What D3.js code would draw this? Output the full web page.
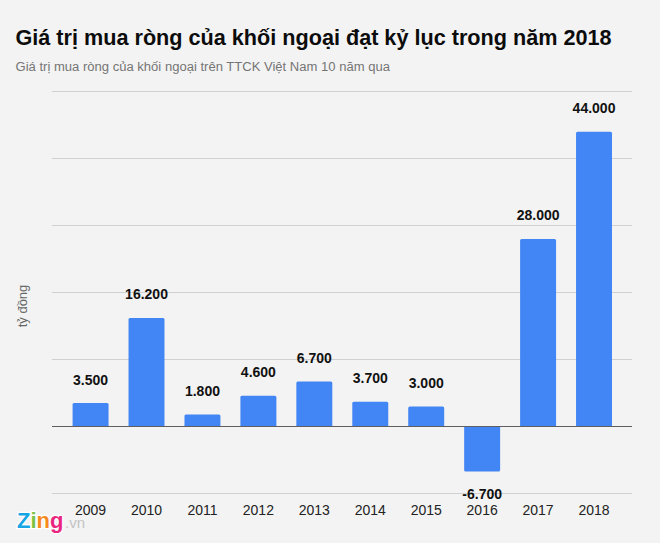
<!DOCTYPE html>
<html><head><meta charset="utf-8">
<script src="https://cdn.jsdelivr.net/npm/d3@7"></script>
<style>
html,body{margin:0;padding:0;background:#f3f3f3}
svg{display:block;font-family:"Liberation Sans",Arial,sans-serif}
</style></head><body>
<svg id="c" width="660" height="543"></svg>
<script>
const titleText = "Giá trị mua ròng của khối ngoại đạt kỷ lục trong năm 2018";
const subtitleText = "Giá trị mua ròng của khối ngoại trên TTCK Việt Nam 10 năm qua";
const yAxisLabel = "tỷ đồng";
const years = ["2009","2010","2011","2012","2013","2014","2015","2016","2017","2018"];
const values = [3500,16200,1800,4600,6700,3700,3000,-6700,28000,44000];
const valueLabels = ["3.500","16.200","1.800","4.600","6.700","3.700","3.000","-6.700","28.000","44.000"];
const gridTicks = [-10000,0,10000,20000,30000,40000,50000];

const svg = d3.select("#c");
const x = d3.scaleBand().domain(years).range([62.6,622]).paddingInner(0.357).paddingOuter(0.1785);
const y = d3.scaleLinear().domain([-10000,50000]).range([493.5,91.5]);

svg.append("text").attr("x",15.5).attr("y",45).attr("font-size",21.63).attr("font-weight","bold").attr("fill","#0c0c0c").text(titleText);
svg.append("text").attr("x",15.5).attr("y",71).attr("font-size",13.05).attr("fill","#757575").text(subtitleText);

svg.append("g").selectAll("line").data(gridTicks.filter(d=>d!==0)).join("line")
  .attr("x1",52).attr("x2",632).attr("y1",d=>y(d)).attr("y2",d=>y(d))
  .attr("stroke","#d0d0d0").attr("stroke-width",1);

svg.append("g").selectAll("path").data(values).join("path")
  .attr("fill","#4285f4")
  .attr("d",(d,i)=>{
    const l=x(years[i]), w=x.bandwidth(), y0=y(0), y1=y(d), r=1.5, s=d>=0?1:-1;
    return `M${l},${y0}L${l},${y1+s*r}Q${l},${y1} ${l+r},${y1}L${l+w-r},${y1}Q${l+w},${y1} ${l+w},${y1+s*r}L${l+w},${y0}Z`;
  });

svg.append("line").attr("x1",52).attr("x2",632).attr("y1",y(0)).attr("y2",y(0)).attr("stroke","#5f5f5f").attr("stroke-width",1);

svg.append("g").selectAll("text").data(values).join("text")
  .attr("x",(d,i)=>x(years[i])+x.bandwidth()/2)
  .attr("y",d=>d>=0?y(d)-18.5:y(d)+27.5)
  .attr("text-anchor","middle").attr("font-size",14).attr("font-weight","bold").attr("fill","#111")
  .text((d,i)=>valueLabels[i]);

svg.append("g").selectAll("text").data(years).join("text")
  .attr("x",d=>x(d)+x.bandwidth()/2).attr("y",515)
  .attr("text-anchor","middle").attr("font-size",14).attr("fill","#222").text(d=>d);

svg.append("text").attr("transform","translate(27,306) rotate(-90)").attr("text-anchor","middle")
  .attr("font-size",13).attr("fill","#666").text(yAxisLabel);

const logo = svg.append("text").attr("x",17).attr("y",527.5).attr("font-size",22).attr("font-weight","bold")
  .attr("stroke","#fff").attr("stroke-width",2.5).attr("paint-order","stroke");
[["Z","#18a5e3"],["i","#7cc242"],["n","#f58a1f"],["g","#e9257f"]].forEach(([t,c])=>logo.append("tspan").attr("fill",c).text(t));
svg.append("text").attr("x",65).attr("y",527.5).attr("font-size",15).attr("fill","#c4c4c4").text(".vn");
</script>
</body></html>
